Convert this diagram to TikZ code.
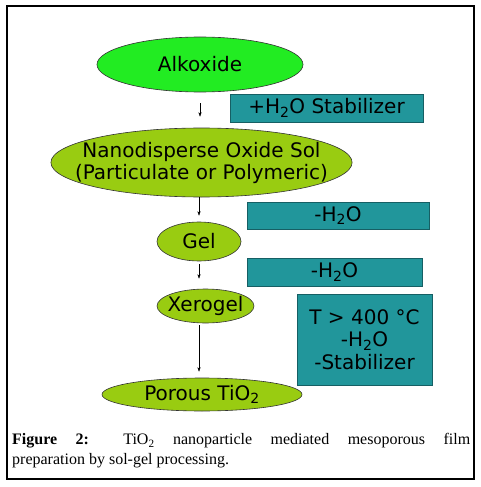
\documentclass[tikz,border=0pt]{standalone}
\usepackage{fontspec}
\setmainfont{Liberation Serif}
\newfontfamily\compfont{DejaVu Sans}
\usepackage{xcolor}
\usepackage{tikz}
\usetikzlibrary{arrows.meta,shapes.geometric,positioning,calc}
\definecolor{alkgreen}{RGB}{34,236,34}
\definecolor{solgreen}{RGB}{153,204,17}
\definecolor{stepteal}{RGB}{33,150,155}
\definecolor{tealedge}{RGB}{22,95,100}
\begin{document}
\begin{tikzpicture}[x=1pt,y=-1pt,>={Stealth[length=4.5pt,width=3.2pt]},
  stage/.style={ellipse,draw=black!80,line width=0.6pt,inner xsep=-20pt,inner ysep=-4pt,
    font=\compfont\fontsize{20}{22}\selectfont,align=center},
  addbox/.style={rectangle,fill=stepteal,draw=tealedge,line width=0.6pt,inner sep=0pt,
    font=\compfont\fontsize{20}{22.5}\selectfont,align=center}]
\useasboundingbox (0,0) rectangle (480,487);
\draw[line width=1.1pt](7,6) rectangle (474,479);
\node[stage,fill=alkgreen,minimum width=206pt,minimum height=55pt](alk) at (200,64.5){Alkoxide};
\node[stage,fill=solgreen,minimum width=297pt,minimum height=69pt](sol) at (201.5,162.5){Nanodisperse Oxide Sol\\(Particulate or Polymeric)};
\node[stage,fill=solgreen,minimum width=84pt,minimum height=39pt](gel) at (199,241.5){Gel};
\node[stage,fill=solgreen,minimum width=97pt,minimum height=34pt](xero) at (205.5,306){Xerogel};
\node[stage,fill=solgreen,minimum width=200pt,minimum height=33pt](tio) at (202,394.5){Porous TiO\textsubscript{2}};
\node[addbox,minimum width=193pt,minimum height=28pt](w1) at (326.5,108){+H\textsubscript{2}O Stabilizer};
\node[addbox,minimum width=182pt,minimum height=27pt](w2) at (338,215.5){-H\textsubscript{2}O};
\node[addbox,minimum width=175pt,minimum height=28pt](w3) at (334.5,272){-H\textsubscript{2}O};
\node[addbox,minimum width=135pt,minimum height=91pt](w4) at (364.5,339.5){T > 400 \textdegree C\\-H\textsubscript{2}O\\-Stabilizer};
\draw[->,shorten <=11pt,shorten >=11pt](alk.south) -- (alk.south |- sol.north);
\draw[->,shorten >=6pt](gel.north |- sol.south) -- (gel.north);
\draw[->,shorten <=3pt,shorten >=10pt](gel.south) -- (gel.south |- xero.north);
\draw[->,shorten <=2pt,shorten >=6pt](gel.south |- xero.south) -- (gel.south |- tio.north);
\node[anchor=north west,inner sep=0pt,font=\fontsize{16}{20}\selectfont,align=left](cap) at (12,433)
  {\makebox[458pt][s]{\textbf{Figure 2:} TiO\textsubscript{2} nanoparticle mediated mesoporous film}\\preparation by sol-gel processing.};
\end{tikzpicture}
\end{document}
